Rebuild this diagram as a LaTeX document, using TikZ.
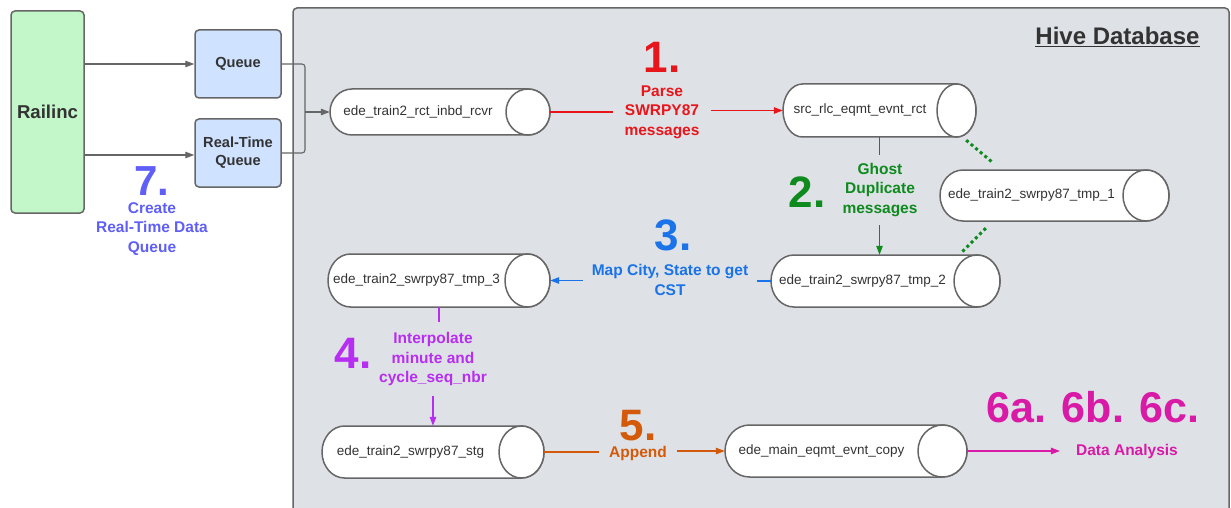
\documentclass[tikz,border=0pt]{standalone}
\usepackage{fontspec}
\setmainfont{Liberation Sans}
\usetikzlibrary{arrows.meta,calc}
\definecolor{hivebg}{HTML}{DEE1E6}
\definecolor{edge}{HTML}{666666}
\definecolor{railgreen}{HTML}{C3F6C8}
\definecolor{qblue}{HTML}{CFE2FF}
\definecolor{txt}{HTML}{333333}
\definecolor{cred}{HTML}{E8161B}
\definecolor{cgreen}{HTML}{0E8A1E}
\definecolor{cblue}{HTML}{1A73E8}
\definecolor{cviolet}{HTML}{B72DF2}
\definecolor{corange}{HTML}{D35A0B}
\definecolor{cmag}{HTML}{D91AA6}
\definecolor{cperi}{HTML}{5F5FF7}
\tikzset{
  boxst/.style={draw=edge,line width=1.5pt,rounded corners=4pt,inner sep=0pt,text=txt,font=\bfseries\fontsize{14.6}{18}\selectfont,align=center},
  cyl/.style={draw=edge,line width=1.5pt,fill=white},
  cyltext/.style={font=\fontsize{13.5}{16}\selectfont,text=txt},
  lbl/.style={font=\bfseries\fontsize{15.5}{19.6}\selectfont,align=center,inner ysep=3pt},
  big/.style={font=\bfseries\fontsize{44}{44}\selectfont,anchor=base,inner sep=0pt},
  conn/.style={line width=1.1pt},
  tip/.style={-{Triangle[length=9pt,width=6.5pt]}},
  gdots/.style={cgreen,line width=3pt,dash pattern=on 3pt off 3pt}
}
\newcommand\dbcyl[7]{%
  \filldraw[cyl] ({#2+#6},#3) -- ({#4-#6},#3) arc[start angle=-90,end angle=90,x radius=#6,y radius={(#5-#3)/2}] -- ({#2+#6},#5) arc[start angle=90,end angle=270,x radius=#6,y radius={(#5-#3)/2}] -- cycle;
  \draw[cyl] ({#4-#6},{(#3+#5)/2}) ellipse[x radius=#6,y radius={(#5-#3)/2}];
  \node[cyltext] at ({(#2+#4)/2-#6},{(#3+#5)/2}) {#7};
  \node[inner sep=0pt,minimum width={#4-#2},minimum height={#5-#3}] (#1) at ({(#2+#4)/2},{(#3+#5)/2}) {};
}
\begin{document}
\begin{tikzpicture}[x=1pt,y=-1pt]
\clip (0,0) rectangle (1231,508);
\fill[white] (0,0) rectangle (1231,508);
% Hive panel
\draw[draw=edge,line width=1.5pt,fill=hivebg,rounded corners=4pt] (293,8) rectangle (1229,530);
\node[anchor=base,text=txt,font=\bfseries\fontsize{24}{28}\selectfont,inner sep=0pt] (hive) at (1117.5,45) {\underline{Hive Database}};
% left boxes
\node[boxst,fill=railgreen,minimum width=73pt,minimum height=202pt,font=\bfseries\fontsize{18.6}{22}\selectfont] (rail) at (47.5,112) {Railinc};
\node[boxst,fill=qblue,minimum width=86pt,minimum height=68pt] (queue) at (238,64) {Queue};
\node[boxst,fill=qblue,minimum width=86pt,minimum height=68pt] (rtq) at (238,153) {Real-Time\\Queue};
% cylinders
\dbcyl{rcvr}{330}{89}{550}{135}{22}{ede\_train2\_rct\_inbd\_rcvr}
\dbcyl{src}{783}{84}{976}{137}{19.5}{src\_rlc\_eqmt\_evnt\_rct}
\dbcyl{tmpa}{940}{170}{1169}{221}{23}{ede\_train2\_swrpy87\_tmp\_1}
\dbcyl{tmpb}{771}{255}{1000}{307}{23}{ede\_train2\_swrpy87\_tmp\_2}
\dbcyl{tmpc}{328}{254}{550}{307}{22.5}{ede\_train2\_swrpy87\_tmp\_3}
\dbcyl{stg}{322}{426}{544}{478}{22.5}{ede\_train2\_swrpy87\_stg}
\dbcyl{mainc}{725}{425}{967}{477}{24.5}{ede\_main\_eqmt\_evnt\_copy}
% railinc -> queues
\draw[conn,edge,tip] (rail.east |- queue.west) -- (queue.west);
\draw[conn,edge,tip] (rail.east |- 0,155) -- (rtq.west |- 0,155);
\coordinate (mj) at (305,112);
\draw[conn,edge,rounded corners=3pt] (queue.east) -- (queue.east -| mj) -- (mj |- rtq.east) -- (rtq.east);
\draw[conn,edge,tip] (mj) -- (mj -| rcvr.west);
% step 1
\node[lbl,text=cred,inner xsep=11pt] (lab1) at (662,112) {Parse\\SWRPY87\\messages};
\node[big,text=cred] (n1) at (662,73) {1.};
\draw[conn,cred] (rcvr.east) -- (lab1.west |- rcvr.east);
\draw[conn,cred,tip] (lab1.east |- src.west) -- (src.west);
% step 2
\node[lbl,text=cgreen,inner ysep=8pt] (lab2) at (880,190) {Ghost\\Duplicate\\messages};
\node[big,text=cgreen] (n2) at (807,207) {2.};
\draw[conn,cgreen] (src.south) -- (src.south |- lab2.north);
\draw[conn,cgreen,tip] (src.south |- lab2.south) -- (src.south |- tmpb.north);
\draw[gdots] ($(src.south east)+(-10,3)$) -- ($(tmpa.north west)+(52,-8)$);
\draw[gdots] ($(tmpa.south west)+(46,7)$) -- ($(tmpb.north east)+(-38,-3)$);
% step 3
\node[lbl,text=cblue,inner xsep=9pt,inner ysep=0pt] (lab3) at (670,280) {Map City, State to get\\CST};
\node[big,text=cblue] (n3) at (673,250) {3.};
\draw[conn,cblue] (tmpb.west) -- (lab3.east |- tmpb.west);
\draw[conn,cblue,tip] (lab3.west |- tmpc.east) -- (tmpc.east);
% step 4
\node[lbl,text=cviolet,inner ysep=10pt] (lab4) at (433,359) {Interpolate\\minute and\\cycle\_seq\_nbr};
\node[big,text=cviolet] (n4) at (353,368) {4.};
\draw[conn,cviolet] (tmpc.south) -- (tmpc.south |- lab4.north);
\draw[conn,cviolet,tip] (stg.north |- lab4.south) -- (stg.north);
% step 5
\node[lbl,text=corange,inner xsep=10pt,inner ysep=0pt] (lab5) at (638,453) {Append};
\node[big,text=corange] (n5) at (638,440) {5.};
\draw[conn,corange] (stg.east) -- (lab5.west |- stg.east);
\draw[conn,corange,tip] (lab5.east |- mainc.west) -- (mainc.west);
% step 6
\node[lbl,text=cmag,inner xsep=16pt] (lab6) at (1127,451) {Data Analysis};
\node[big,text=cmag,font=\bfseries\fontsize{43}{43}\selectfont] (n6) at (1093,422) {6a. 6b. 6c.};
\draw[conn,cmag,tip] (mainc.east) -- (lab6.west);
% step 7
\node[big,text=cperi,font=\bfseries\fontsize{42}{42}\selectfont] (n7) at (152,195) {7.};
\node[lbl,text=cperi,inner ysep=0pt] (lab7) at (152,229) {Create\\Real-Time Data\\Queue};
\end{tikzpicture}
\end{document}
